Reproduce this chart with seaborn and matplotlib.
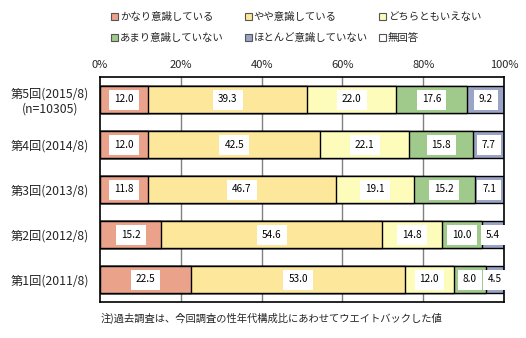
import numpy as np
import pandas as pd
import matplotlib
matplotlib.use("Agg")
import matplotlib.pyplot as plt
from matplotlib.patches import Patch
import seaborn as sns

sns.set_theme(style="white")
plt.rcParams["font.family"] = ["Noto Sans CJK JP", "DejaVu Sans"]

rounds = ["第5回(2015/8)\n(n=10305)", "第4回(2014/8)", "第3回(2013/8)",
          "第2回(2012/8)", "第1回(2011/8)"]
categories = ["かなり意識している", "やや意識している", "どちらともいえない",
              "あまり意識していない", "ほとんど意識していない", "無回答"]
very_conscious = [12.0, 12.0, 11.8, 15.2, 22.5]
somewhat_conscious = [39.3, 42.5, 46.7, 54.6, 53.0]
neutral = [22.0, 22.1, 19.1, 14.8, 12.0]
not_very_conscious = [17.6, 15.8, 15.2, 10.0, 8.0]
hardly_conscious = [9.2, 7.7, 7.1, 5.4, 4.5]
no_answer = [0.0, 0.0, 0.0, 0.0, 0.0]
xtick_labels = ["0%", "20%", "40%", "60%", "80%", "100%"]

colors = ["#EBA28B", "#FDE79A", "#FEFCBB", "#A0C98C", "#9BA4C7", "#FFFFFF"]

series = [very_conscious, somewhat_conscious, neutral,
          not_very_conscious, hardly_conscious, no_answer]
df = pd.DataFrame({c: v for c, v in zip(categories, series)})
df["round"] = rounds
cum = df[categories].cumsum(axis=1)

fig = plt.figure(figsize=(5.26, 3.38), dpi=100)
ax = fig.add_axes([100 / 526, 1 - 302 / 338, 404 / 526, 225 / 338])

# gridlines behind the bars
for x in [20, 40, 60, 80]:
    ax.axvline(x, color="#808080", lw=1.0, zorder=0)

# stacked bars: draw cumulative totals from the outermost layer inward
for i in range(len(categories) - 1, -1, -1):
    if df[categories[i]].sum() == 0:
        continue
    sns.barplot(x=cum[categories[i]], y=df["round"], orient="h", ax=ax,
                color=colors[i], width=0.6, edgecolor="black", linewidth=1.0,
                saturation=1, zorder=2)

# value labels in white boxes
for r in range(len(rounds)):
    left = 0.0
    for i, cat in enumerate(categories):
        v = df[cat].iloc[r]
        if v > 0:
            ax.text(left + v / 2, r, f"{v:.1f}", ha="center", va="center",
                    fontsize=7.2, color="black", zorder=5,
                    bbox=dict(boxstyle="square,pad=0.5", fc="white", ec="none"))
        left += v

ax.set_xlim(0, 100)
ax.set_ylim(len(rounds) - 0.5, -0.5)
ax.xaxis.tick_top()
ax.set_xticks([0, 20, 40, 60, 80, 100])
ax.set_xticklabels(xtick_labels, fontsize=8)
ax.tick_params(axis="x", length=0, pad=5)
ax.tick_params(axis="y", length=0, pad=8, labelsize=8.8)
ax.set_xlabel("")
ax.set_ylabel("")
for lab in ax.get_yticklabels():
    lab.set_multialignment("center")
for s in ax.spines.values():
    s.set_color("black")
    s.set_linewidth(1.2)

# legend: three fixed-width columns, two entries each, filled row by row
handles = [Patch(facecolor=c, edgecolor="#555555", linewidth=0.8) for c in colors]
col_x = [102, 236, 370]
for c in range(3):
    idx = [c, c + 3]
    fig.legend([handles[k] for k in idx], [categories[k] for k in idx],
               loc="upper left", bbox_to_anchor=(col_x[c] / 526, 1 - 3 / 338),
               ncol=1, frameon=False, fontsize=7.5, handlelength=0.6,
               handleheight=0.6, handletextpad=0.2, labelspacing=1.05)

fig.text(101 / 526, 1 - 318 / 338,
         "注)過去調査は、今回調査の性年代構成比にあわせてウエイトバックした値",
         fontsize=7.4, va="center", ha="left")

fig.savefig("out.png", dpi=100, facecolor="white")
